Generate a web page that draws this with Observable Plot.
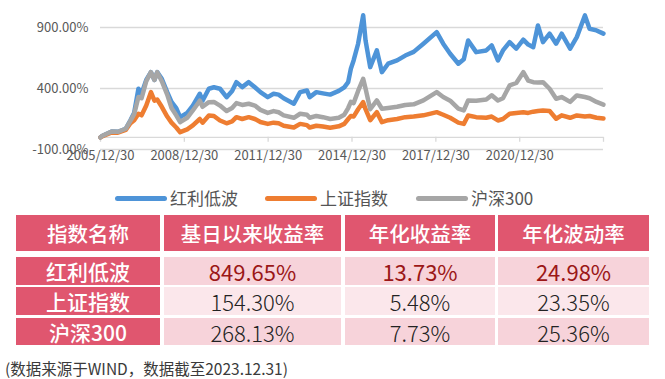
<!DOCTYPE html>
<html>
<head>
<meta charset="utf-8">
<script src="https://cdn.jsdelivr.net/npm/d3@7"></script>
<script src="https://cdn.jsdelivr.net/npm/@observablehq/plot@0.6"></script>
<style>
  html, body { margin: 0; padding: 0; background: #fff; }
  body { width: 665px; height: 379px; position: relative; overflow: hidden;
         font-family: "Noto Sans CJK SC", "Noto Sans", sans-serif; }
  #chart { position: absolute; left: 0; top: 0; }
  .leg-line { position: absolute; height: 5px; border-radius: 3px; }
  .leg-text { position: absolute; font-size: 17px; color: #555; line-height: 20px; }
  .cell { position: absolute; display: flex; align-items: center; justify-content: center; box-sizing: border-box; white-space: nowrap; }
  .caption { position: absolute; left: 5px; top: 357px; font-size: 15.5px; color: #3a3a3a; line-height: 22px; }
</style>
</head>
<body>
<div id="chart"></div>
<div id="legend"></div>
<div id="table"></div>
<div class="caption" id="caption"></div>
<script>
// ---------- data ----------
const dates = [
  "2005-12-30","2006-01-20","2006-05-25","2006-08-15","2006-11-25","2007-01-25","2007-03-15","2007-05-10","2007-06-20","2007-08-20",
  "2007-10-20","2007-12-05","2008-01-10","2008-03-10","2008-05-20","2008-07-15","2008-09-15","2008-11-05","2009-02-05","2009-04-20",
  "2009-07-20","2009-08-25","2009-11-15","2010-01-20","2010-04-10","2010-07-05","2010-09-15","2010-11-10","2011-01-25","2011-04-20",
  "2011-07-10","2011-09-20","2011-12-25","2012-03-10","2012-05-15","2012-07-20","2012-11-30","2013-02-20","2013-05-20","2013-06-25",
  "2013-09-20","2013-12-15","2014-03-20","2014-07-10","2014-09-20","2014-11-10","2014-12-15","2015-01-20","2015-03-20","2015-05-25",
  "2015-06-25","2015-08-25","2015-11-20","2016-01-25","2016-04-15","2016-08-10","2016-11-25","2017-03-15","2017-07-20","2018-01-10",
  "2018-04-05","2018-07-05","2018-10-20","2018-12-30","2019-02-25","2019-06-10","2019-10-20","2019-12-30","2020-03-20","2020-05-25",
  "2020-08-20","2020-11-15","2021-02-15","2021-04-20","2021-06-25","2021-08-25","2021-10-30","2022-01-25","2022-04-20","2022-07-01",
  "2022-10-20","2023-01-15","2023-05-01","2023-07-01","2023-09-30","2023-12-29"
];
const hongliDibo = [
  0,10,48,45,70,140,200,398,360,470,
  534,470,534,480,370,290,240,165,200,260,
  357,300,398,410,398,329,380,452,411,452,
  410,370,329,357,350,320,275,370,384,329,
  370,360,350,380,410,452,562,630,767,1000,
  794,575,712,534,603,630,670,700,767,862,
  767,685,603,640,794,698,712,753,630,712,
  780,726,800,760,739,917,780,849,767,849,
  726,821,999,890,876,849.65
];
const shangzheng = [
  0,8,40,38,60,115,140,193,180,260,
  370,300,310,250,170,120,80,42,65,97,
  150,120,179,175,138,115,130,165,150,165,
  150,125,110,120,115,95,80,110,100,80,
  95,88,78,90,110,150,175,170,230,288,
  230,140,206,124,140,150,165,170,180,206,
  185,160,120,110,179,165,160,170,138,150,
  193,200,206,200,210,215,220,215,152,180,
  160,179,170,175,160,154.30
];
const hushen300 = [
  0,10,48,45,70,135,190,330,320,460,
  534,470,534,460,350,240,180,124,160,220,
  300,250,288,290,260,215,240,280,265,275,
  260,225,200,215,205,180,160,193,185,160,
  175,165,150,160,185,240,290,280,380,480,
  400,230,302,234,240,250,265,270,302,370,
  330,300,235,220,302,300,310,345,302,320,
  425,445,534,465,452,450,452,398,316,330,
  290,343,330,320,290,268.13
];
const seriesNames = ["红利低波", "上证指数", "沪深300"];
const seriesColors = ["#4e94d8", "#ee7d31", "#a6a6a6"];
const yTicks = [-100, 400, 900];
const xTickDates = ["2005-12-30","2008-12-30","2011-12-30","2014-12-30","2017-12-30","2020-12-30"];
const xTickMarks = ["2005-12-30","2008-12-30","2011-12-30","2014-12-30","2017-12-30","2020-12-30","2023-12-30"];

const tableHeaders = ["指数名称", "基日以来收益率", "年化收益率", "年化波动率"];
const cumReturn = ["849.65%", "154.30%", "268.13%"];
const annReturn = ["13.73%", "5.48%", "7.73%"];
const annVol = ["24.98%", "23.35%", "25.36%"];
const captionText = "(数据来源于WIND，数据截至2023.12.31)";

// ---------- chart ----------
const parse = s => new Date(s + "T00:00:00Z");
const allSeries = [hongliDibo, shangzheng, hushen300];
const rows = allSeries.map((vals, k) => dates.map((d, i) => ({date: parse(d), value: vals[i], series: seriesNames[k]})));

const chart = Plot.plot({
  width: 665,
  height: 170,
  marginLeft: 100,
  marginRight: 62,
  marginTop: 27,
  marginBottom: 21,
  style: {fontFamily: "'Noto Sans CJK SC', sans-serif", fontSize: "13px", color: "#595959", background: "transparent"},
  x: {type: "utc", domain: [parse("2005-12-30"), parse("2023-12-30")], label: null},
  y: {domain: [-100, 900], label: null},
  marks: [
    Plot.gridY(yTicks, {stroke: "#d9d9d9", strokeOpacity: 1, strokeWidth: 1.3}),
    Plot.ruleY([0], {stroke: "#d9d9d9", strokeWidth: 1.3}),
    Plot.ruleX(xTickMarks.map(parse), {x: d => d, y1: 0, y2: 0, insetBottom: -5, stroke: "#d9d9d9", strokeWidth: 1.3}),
    Plot.axisY(yTicks, {tickSize: 0, tickPadding: 12, tickFormat: d => d.toFixed(2) + "%", fill: "#595959", label: null}),
    Plot.axisX(xTickDates.map(parse), {tickSize: 0, tickPadding: 1, tickFormat: d3.utcFormat("%Y/%m/%d"), fill: "#595959", label: null}),
    ...rows.map((r, k) => Plot.line(r, {x: "date", y: "value", stroke: seriesColors[k], strokeWidth: 4.5, strokeLinejoin: "round", strokeLinecap: "round"}))
  ]
});
document.getElementById("chart").appendChild(chart);

// ---------- legend ----------
const legend = document.getElementById("legend");
const legLineX = [115, 265, 416];
seriesNames.forEach((name, k) => {
  const ln = document.createElement("div");
  ln.className = "leg-line";
  ln.style.left = legLineX[k] + "px";
  ln.style.top = "196px";
  ln.style.width = "52px";
  ln.style.background = seriesColors[k];
  legend.appendChild(ln);
  const tx = document.createElement("div");
  tx.className = "leg-text";
  tx.style.left = (legLineX[k] + 55) + "px";
  tx.style.top = "188px";
  tx.textContent = name;
  legend.appendChild(tx);
});

// ---------- table ----------
const table = document.getElementById("table");
const colX = [16, 164, 345, 498];
const colW = [144, 177, 150, 151];
const rowY = [215, 257, 287, 318];
const rowH = [36, 28, 28, 27];
const red = "#e0566f";
const rowBg = ["#f7d3da", "#fbe7eb", "#f7d3da"];
function cell(text, c, r, bg, color, size, weight) {
  const el = document.createElement("div");
  el.className = "cell";
  Object.assign(el.style, {
    left: colX[c] + "px", top: rowY[r] + "px", width: colW[c] + "px", height: rowH[r] + "px",
    background: bg, color: color, fontSize: size + "px", fontWeight: weight
  });
  el.textContent = text;
  table.appendChild(el);
}
tableHeaders.forEach((h, c) => cell(h, c, 0, red, "#fff", 20.5, 500));
seriesNames.forEach((name, i) => {
  const valColor = i === 0 ? "#9b1717" : "#222";
  const w = i === 0 ? 400 : 300;
  cell(name, 0, i + 1, red, "#fff", 21, 500);
  cell(cumReturn[i], 1, i + 1, rowBg[i], valColor, 22, w);
  cell(annReturn[i], 2, i + 1, rowBg[i], valColor, 22, w);
  cell(annVol[i], 3, i + 1, rowBg[i], valColor, 22, w);
});

document.getElementById("caption").textContent = captionText;
</script>
</body>
</html>
